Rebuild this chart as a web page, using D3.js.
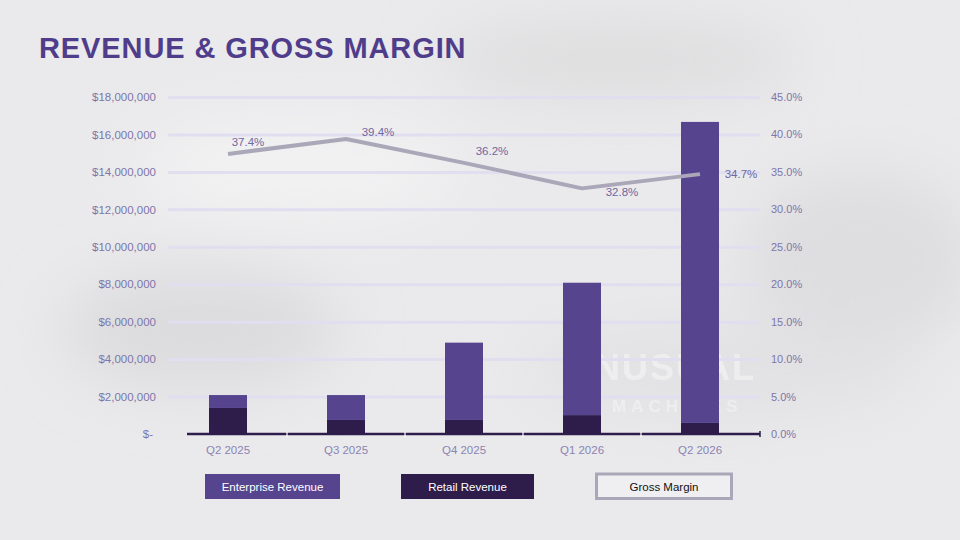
<!DOCTYPE html>
<html>
<head>
<meta charset="utf-8">
<script src="https://cdn.jsdelivr.net/npm/d3@7.9.0/dist/d3.min.js"></script>
<style>
  html, body { margin: 0; padding: 0; background: #eaeaec; }
  #chart { width: 960px; height: 540px; }
  text { font-family: "Liberation Sans", Arial, sans-serif; }
</style>
</head>
<body>
<div id="chart"></div>
<script>
// quarters along the bottom
const quarters = ['Q2 2025', 'Q3 2025', 'Q4 2025', 'Q1 2026', 'Q2 2026'];
// revenue split (USD)
const retailRevenue = [1390000, 750000, 750000, 1010000, 590000];
const enterpriseRevenue = [690000, 1330000, 4130000, 7070000, 16080000];
// gross margin (%)
const grossMargin = [37.4, 39.4, 36.2, 32.8, 34.7];
// axis ticks
const revenueTicks = [0, 2e6, 4e6, 6e6, 8e6, 10e6, 12e6, 14e6, 16e6, 18e6];
const marginTicks = [0, 5, 10, 15, 20, 25, 30, 35, 40, 45];
const legendItems = ['Enterprise Revenue', 'Retail Revenue', 'Gross Margin'];

const width = 960;
const height = 540;
const colors = { enterprise: '#56448f', retail: '#2e1d4b', margin: '#aaa7b9', label: '#7d76a9', grid: '#e1def0' };

function render() {
  const svg = d3.select('#chart').append('svg')
    .attr('width', width)
    .attr('height', height);

  // --- background (blurry photo look) ---
  const defs = svg.append('defs');
  defs.append('filter').attr('id', 'blur')
    .attr('x', '-50%').attr('y', '-50%').attr('width', '200%').attr('height', '200%')
    .append('feGaussianBlur').attr('stdDeviation', 30);
  svg.append('rect').attr('width', width).attr('height', height).attr('fill', '#eaeaec');
  const blobs = svg.append('g').attr('filter', 'url(#blur)');
  blobs.append('ellipse').attr('cx', 200).attr('cy', 330).attr('rx', 140).attr('ry', 60).attr('fill', '#dcdcde');
  blobs.append('ellipse').attr('cx', 620).attr('cy', 60).attr('rx', 180).attr('ry', 40).attr('fill', '#dededf');
  blobs.append('ellipse').attr('cx', 860).attr('cy', 260).attr('rx', 120).attr('ry', 90).attr('fill', '#dedee0');
  blobs.append('ellipse').attr('cx', 300).attr('cy', 170).attr('rx', 160).attr('ry', 50).attr('fill', '#f2f2f3');
  blobs.append('ellipse').attr('cx', 720).attr('cy', 370).attr('rx', 200).attr('ry', 50).attr('fill', '#e2e2e4');

  // faint watermark from the background photo
  svg.append('text').attr('x', 566).attr('y', 380)
    .attr('font-family', 'Inter, sans-serif').attr('font-weight', 700).attr('font-size', 36)
    .attr('letter-spacing', 2).attr('fill', '#ffffff').attr('opacity', 0.4).text('UNUSUAL');
  svg.append('text').attr('x', 612).attr('y', 412)
    .attr('font-family', 'Inter, sans-serif').attr('font-weight', 700).attr('font-size', 17)
    .attr('letter-spacing', 5).attr('fill', '#ffffff').attr('opacity', 0.35).text('MACHINES');

  // --- title ---
  svg.append('text')
    .attr('x', 39).attr('y', 58)
    .attr('font-family', 'Inter, "Noto Sans", sans-serif')
    .attr('font-weight', 700).attr('font-size', 29)
    .attr('letter-spacing', 0.9)
    .attr('fill', '#4f3d8b')
    .text('REVENUE & GROSS MARGIN');

  const margin = { top: 97, right: 201, bottom: 106, left: 169 };
  const area = {
    left: margin.left, right: width - margin.right,
    top: margin.top, bottom: height - margin.bottom,
  };

  const x = d3.scaleBand().domain(quarters)
    .range([area.left, area.right])
    .paddingInner(0.678).paddingOuter(0.339);
  const yLeft = d3.scaleLinear().domain([0, 18e6]).range([area.bottom, area.top]);
  const yRight = d3.scaleLinear().domain([0, 45]).range([area.bottom, area.top]);

  // gridlines
  svg.append('g')
    .attr('transform', `translate(${area.left - 1},0)`)
    .call(d3.axisLeft(yLeft).tickValues(revenueTicks.slice(1)).tickFormat('').tickSize(-(area.right - area.left + 2)))
    .call(g => g.select('.domain').remove())
    .call(g => g.selectAll('line').attr('stroke', colors.grid).attr('stroke-width', 3));

  // left axis labels
  const fmtMoney = d3.format('$,');
  svg.append('g')
    .attr('transform', `translate(${area.left - 10},0)`)
    .call(d3.axisLeft(yLeft).tickValues(revenueTicks).tickSize(0)
      .tickFormat(d => d === 0 ? '$-' : fmtMoney(d)))
    .call(g => g.select('.domain').remove())
    .call(g => g.selectAll('text')
      .attr('fill', colors.label).attr('font-size', 11.5)
      .attr('font-family', '"Liberation Sans", Arial, sans-serif')
      .attr('x', d => d === 0 ? -6 : -3));

  // right axis labels
  svg.append('g')
    .attr('transform', `translate(${area.right + 9},0)`)
    .call(d3.axisRight(yRight).tickValues(marginTicks).tickSize(0)
      .tickFormat(d => d.toFixed(1) + '%'))
    .call(g => g.select('.domain').remove())
    .call(g => g.selectAll('text')
      .attr('fill', colors.label).attr('font-size', 11)
      .attr('font-family', '"Liberation Sans", Arial, sans-serif'));

  // --- stacked bars ---
  const rows = quarters.map((q, i) => ({ q, retail: retailRevenue[i], enterprise: enterpriseRevenue[i] }));
  const stack = d3.stack().keys(['retail', 'enterprise'])(rows);
  svg.append('g').selectAll('g')
    .data(stack)
    .join('g')
    .attr('fill', d => colors[d.key])
    .selectAll('rect')
    .data(d => d)
    .join('rect')
    .attr('x', d => x(d.data.q))
    .attr('width', x.bandwidth())
    .attr('y', d => yLeft(d[1]))
    .attr('height', d => yLeft(d[0]) - yLeft(d[1]));

  // category axis line with small separators between quarters
  const gap = (x.step() - x.bandwidth()) / 2;
  const xAxis = svg.append('g').attr('transform', `translate(0,${area.bottom})`);
  xAxis.append('line')
    .attr('x1', area.left + 18).attr('x2', area.right + 1)
    .attr('stroke', colors.retail).attr('stroke-width', 2.5);
  xAxis.selectAll('line.sep')
    .data(quarters.slice(1))
    .join('line')
    .attr('class', 'sep')
    .attr('x1', d => x(d) - gap)
    .attr('x2', d => x(d) - gap)
    .attr('y1', -2).attr('y2', 3)
    .attr('stroke', '#ffffff').attr('stroke-width', 1.2);
  xAxis.append('line')
    .attr('x1', area.right + 1).attr('x2', area.right + 1)
    .attr('y1', -3).attr('y2', 3)
    .attr('stroke', colors.retail).attr('stroke-width', 1.5);
  xAxis.call(d3.axisBottom(x).tickSize(0).tickPadding(12))
    .call(g => g.select('.domain').remove())
    .call(g => g.selectAll('text')
      .attr('fill', '#8a84b3').attr('font-size', 11.5)
      .attr('font-family', '"Liberation Sans", Arial, sans-serif'));

  // --- gross margin line ---
  const cx = q => x(q) + x.bandwidth() / 2;
  const line = d3.line()
    .x((d, i) => cx(quarters[i]))
    .y(d => yRight(d));
  svg.append('path')
    .datum(grossMargin)
    .attr('d', line)
    .attr('fill', 'none')
    .attr('stroke', colors.margin)
    .attr('stroke-width', 4)
    .attr('stroke-linejoin', 'round');

  // data labels (nudged like the original deck)
  const nudge = [[20, -8], [32, -3], [28, -8], [40, 8], [41, 4]];
  svg.append('g').selectAll('text')
    .data(grossMargin)
    .join('text')
    .attr('x', (d, i) => cx(quarters[i]) + nudge[i][0])
    .attr('y', (d, i) => yRight(d) + nudge[i][1])
    .attr('text-anchor', 'middle')
    .attr('fill', '#6f67a0')
    .attr('font-size', 11.5)
    .text(d => d.toFixed(1) + '%');

  // --- legend ---
  const legendBoxes = [
    { x: 205, w: 135, fill: colors.enterprise, text: '#ffffff' },
    { x: 401, w: 133, fill: colors.retail, text: '#ffffff' },
    { x: 596.5, w: 135, fill: '#efeff1', text: '#111111', stroke: colors.margin },
  ];
  const legend = svg.append('g').selectAll('g')
    .data(legendItems)
    .join('g')
    .attr('transform', (d, i) => `translate(${legendBoxes[i].x},474)`);
  legend.append('rect')
    .attr('width', (d, i) => legendBoxes[i].w)
    .attr('height', (d, i) => legendBoxes[i].stroke ? 24.5 : 25)
    .attr('fill', (d, i) => legendBoxes[i].fill)
    .attr('stroke', (d, i) => legendBoxes[i].stroke || 'none')
    .attr('stroke-width', 3);
  legend.append('text')
    .attr('x', (d, i) => legendBoxes[i].w / 2)
    .attr('y', 17)
    .attr('text-anchor', 'middle')
    .attr('font-family', '"Open Sans", "Liberation Sans", sans-serif')
    .attr('font-size', 11.5)
    .attr('fill', (d, i) => legendBoxes[i].text)
    .text(d => d);
}

render();
</script>
</body>
</html>
